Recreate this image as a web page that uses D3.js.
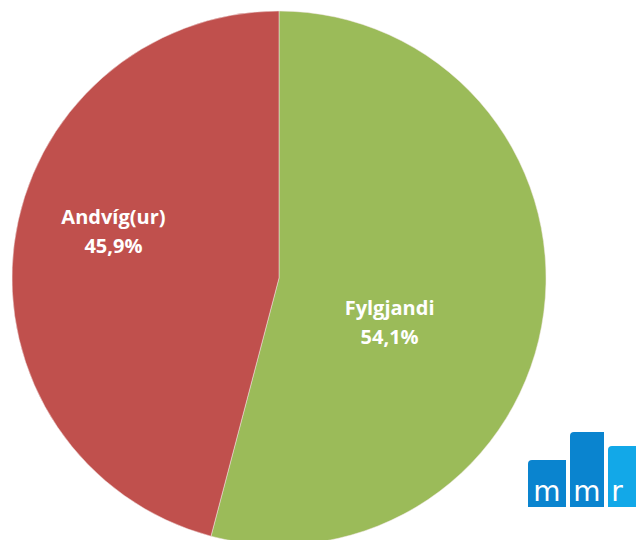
<!DOCTYPE html>
<html lang="en">
<head>
    <meta charset="UTF-8">
    <title>Fylgjandi / Andvíg(ur)</title>
    <style>
        body { margin: 0; background: #fff; }
        svg { display: block; }
    </style>
</head>
<body>
<svg height="540" width="636"></svg>

<script src="https://cdn.jsdelivr.net/npm/d3@7"></script>
<script>

    var categories = ['Fylgjandi', 'Andvíg(ur)'];
    var values = [54.1, 45.9];
    var valueLabels = ['54,1%', '45,9%'];
    var colors = ['#9BBB59', '#C0504D'];

    var svg = d3.select("svg");
    var cx = 279, cy = 278, radius = 267;

    var data = categories.map(function(c, i) {
        return {name: c, value: values[i], label: valueLabels[i], color: colors[i]};
    });

    var pie = d3.pie().sort(null).value(function(d) { return d.value; });
    var arc = d3.arc().innerRadius(0).outerRadius(radius);

    var g = svg.append("g").attr("transform", "translate(" + cx + "," + cy + ")");

    var slices = g.selectAll(".slice")
        .data(pie(data))
        .enter()
        .append("g")
        .attr("class", "slice");

    slices.append("path")
        .attr("d", arc)
        .attr("fill", function(d) { return d.data.color; })
        .attr("stroke", "#f2e6e6")
        .attr("stroke-width", 0.5);

    // label positions: fraction of radius out from centre, then nudged
    var labelArc = d3.arc().innerRadius(radius * 0.58).outerRadius(radius * 0.58);
    var labelOffsets = [[-43, 25], [-12, -26]];

    var labels = slices.append("text")
        .attr("text-anchor", "middle")
        .attr("fill", "#fff")
        .attr("font-family", "'Open Sans', sans-serif")
        .attr("font-weight", "bold")
        .attr("font-size", "20px")
        .attr("transform", function(d, i) {
            var c = labelArc.centroid(d);
            return "translate(" + (c[0] + labelOffsets[i][0]) + "," + (c[1] + labelOffsets[i][1]) + ")";
        });

    labels.append("tspan").attr("x", 0).attr("y", -8).text(function(d) { return d.data.name; });
    labels.append("tspan").attr("x", 0).attr("y", 21).text(function(d) { return d.data.label; });

    // mmr logo
    var logo = svg.append("g").attr("transform", "translate(528,432)");
    var bars = [
        {x: 0, y: 28, w: 38, c: '#0A84CF', t: 'm'},
        {x: 42, y: 0, w: 34, c: '#0A84CF', t: 'm'},
        {x: 80, y: 14, w: 30, c: '#12A8E8', t: 'r'}
    ];
    bars.forEach(function(b) {
        var r = 4;
        var bottom = 75;
        logo.append("path")
            .attr("d", "M" + b.x + "," + bottom + "V" + (b.y + r) +
                "Q" + b.x + "," + b.y + " " + (b.x + r) + "," + b.y +
                "H" + (b.x + b.w) + "V" + bottom + "Z")
            .attr("fill", b.c);
        logo.append("text")
            .attr("x", b.x + (b.t === 'r' ? 9 : b.w / 2))
            .attr("y", 69)
            .attr("text-anchor", "middle")
            .attr("fill", "#fff")
            .attr("font-family", "'DejaVu Sans', sans-serif")
            .attr("font-size", "28px")
            .text(b.t);
    });

</script>
</body>
</html>
